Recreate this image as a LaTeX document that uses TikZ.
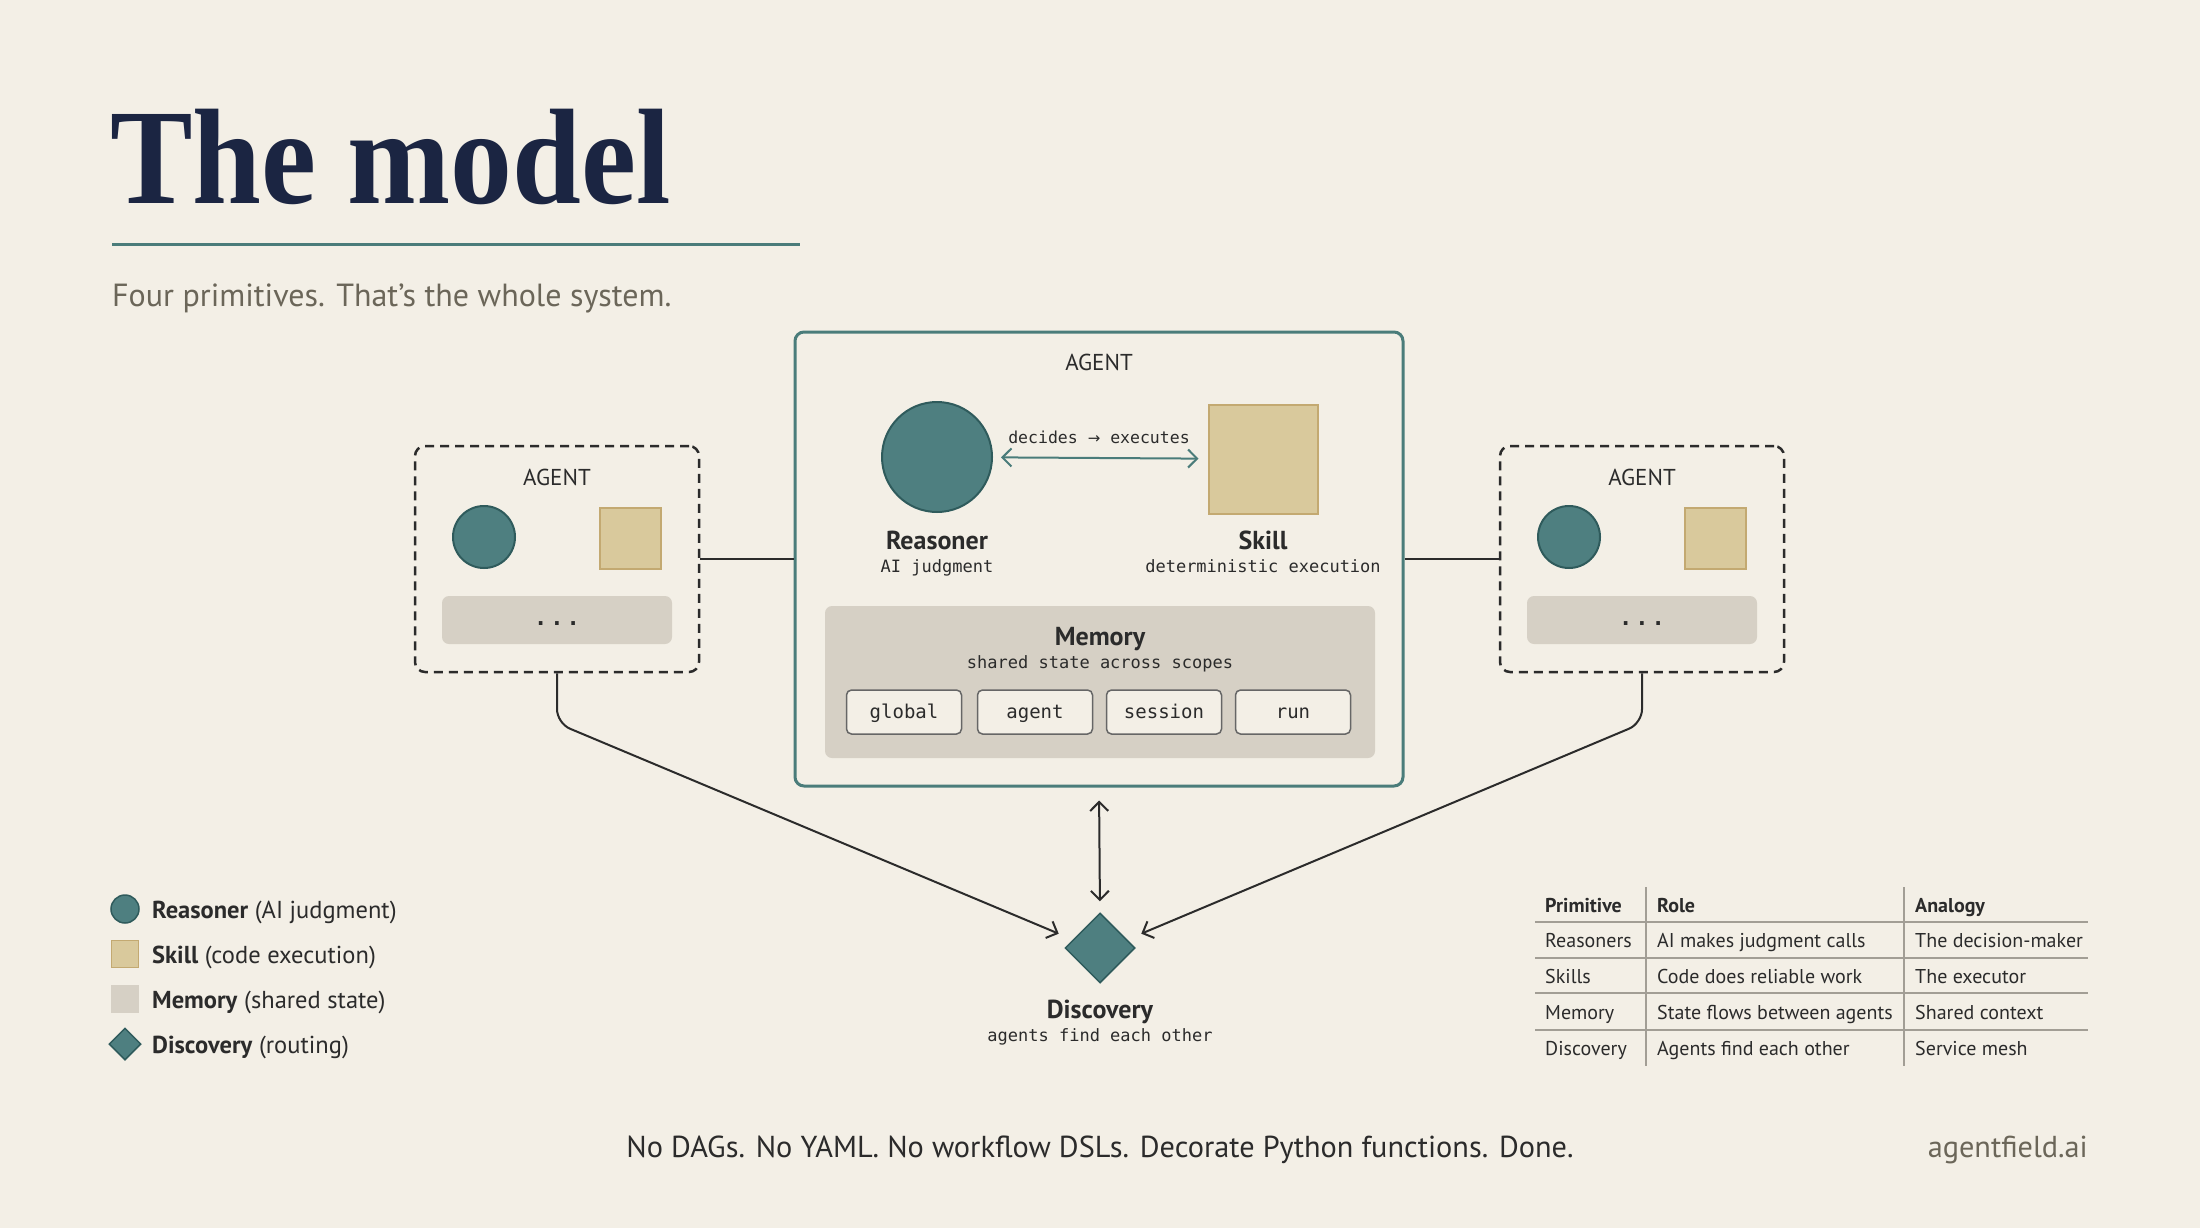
\documentclass[tikz,border=0pt]{standalone}
\usepackage{fontspec}
\setmainfont{PT Sans}
\setmonofont{DejaVu Sans Mono}
\newfontfamily\titlefont{Liberation Serif}
\newfontfamily\arrowfont{DejaVu Sans}
\usepackage{graphicx}
\usepackage{xcolor}
\usepackage{tikz}
\usetikzlibrary{arrows.meta,positioning,shapes.geometric}

\definecolor{bgcream}{HTML}{F3EFE6}
\definecolor{tealfill}{HTML}{4E7F80}
\definecolor{tealdark}{HTML}{2F5B5C}
\definecolor{tealline}{HTML}{4A7C7A}
\definecolor{skillfill}{HTML}{D9C99C}
\definecolor{skillline}{HTML}{C3A971}
\definecolor{memfill}{HTML}{D6D0C5}
\definecolor{navy}{HTML}{1B2542}
\definecolor{subgray}{HTML}{6B6659}
\definecolor{inkdark}{HTML}{2B2B2B}
\definecolor{rulegray}{HTML}{A29E95}

\newcommand{\fsz}[1]{\fontsize{#1}{#1}\selectfont}

\begin{document}
\begin{tikzpicture}[x=1pt,y=-1pt,
  reasoner/.style={circle,fill=tealfill,draw=tealdark,line width=2pt,inner sep=0pt},
  skill/.style={rectangle,fill=skillfill,draw=skillline,line width=2pt,inner sep=0pt},
  membar/.style={fill=memfill,rounded corners=7pt,inner sep=0pt},
  dots/.style={membar,minimum width=230pt,minimum height=48pt,font=\fsz{22}\ttfamily\bfseries,text=inkdark,text height=10pt,text depth=0pt},
  dashbox/.style={draw=inkdark,line width=2.5pt,dash pattern=on 9pt off 6pt,rounded corners=10pt,minimum width=284pt,minimum height=226pt},
  scopebox/.style={draw=black!60,fill=bgcream,line width=1.5pt,rounded corners=5pt,minimum width=115pt,minimum height=44pt,font=\fsz{19}\ttfamily,text=inkdark,text height=13.5pt,text depth=1.5pt},
  lbl/.style={inner sep=0pt,font=\fsz{23},text=inkdark,text height=19.5pt,text depth=3.5pt},
  boldlbl/.style={inner sep=0pt,font=\fsz{26}\bfseries,text=inkdark,text height=22.1pt,text depth=3.9pt},
  mono/.style={inner sep=0pt,font=\fsz{17}\ttfamily,text=inkdark,text height=14.5pt,text depth=2.6pt},
  legtxt/.style={inner sep=0pt,font=\fsz{24.5},text=inkdark,anchor=west,text height=20.8pt,text depth=3.7pt},
  cell/.style={inner sep=0pt,font=\fsz{20},text=inkdark,anchor=west,text height=17pt,text depth=3pt},
  conn/.style={draw=inkdark,line width=2pt},
  barb/.tip={Straight Barb[length=9pt,width=18pt,line width=2pt]}
]
\fill[bgcream] (0,0) rectangle (2200,1228);
\useasboundingbox (0,0) rectangle (2200,1228);

\node[anchor=base west,inner sep=0pt,text=navy] (title) at (110,203)
  {\scalebox{0.91}[1]{\titlefont\bfseries\fsz{136}The model}};
\draw[tealline,line width=3pt] (112,244) -- (800,244);
\node[anchor=base west,inner sep=0pt,text=subgray,font=\fsz{32}] (subtitle) at (112,306)
  {Four primitives. That’s the whole system.};

\node[draw=tealline,line width=3pt,rounded corners=9pt,minimum width=608pt,minimum height=454pt] (agent) at (1099,559) {};
\node[lbl] (agentlbl) at (1099,362) {AGENT};
\node[reasoner,minimum size=110pt] (rsn) at (937,457) {};
\node[skill,minimum size=109pt] (skl) at (1263,459) {};
\draw[tealline,line width=2pt,barb-barb,shorten <=8pt,shorten >=9pt] (rsn) -- (skl);
\node[mono,font=\fsz{16.5}\ttfamily] (decides) at (1099,438) {decides {\arrowfont\fsz{15}→} executes};
\node[boldlbl] (rsnlbl) at (937,540) {Reasoner};
\node[mono] (rsnsub) at (937,567) {AI judgment};
\node[boldlbl] (skllbl) at (1263,540) {Skill};
\node[mono] (sklsub) at (1263,567) {deterministic execution};

\node[membar,minimum width=550pt,minimum height=152pt] (mem) at (1100,682) {};
\node[boldlbl] (memlbl) at (1100,636) {Memory};
\node[mono] (memsub) at (1100,663) {shared state across scopes};
\node[scopebox] (sglobal) at (904,712) {global};
\node[scopebox] (sagent) at (1035,712) {agent};
\node[scopebox] (ssession) at (1164,712) {session};
\node[scopebox] (srun) at (1293,712) {run};

\node[dashbox] (lagent) at (557,559) {};
\node[lbl] (llbl) at (557,477) {AGENT};
\node[reasoner,minimum size=62pt] (lrsn) at (484,537) {};
\node[skill,minimum size=61pt] (lskl) at (630,538) {};
\node[dots] (lmem) at (557,620) {.\kern3pt.\kern3pt.};

\node[dashbox] (ragent) at (1642,559) {};
\node[lbl] (rlbl) at (1642,477) {AGENT};
\node[reasoner,minimum size=62pt] (rrsn) at (1569,537) {};
\node[skill,minimum size=61pt] (rskl) at (1715,538) {};
\node[dots] (rmem) at (1642,620) {.\kern3pt.\kern3pt.};

\draw[conn] (lagent.east) -- (agent.west);
\draw[conn] (agent.east) -- (ragent.west);

\node[diamond,fill=tealfill,draw=tealdark,line width=1.5pt,minimum size=70pt,inner sep=0pt] (disc) at (1100,948) {};
\node[boldlbl] (disclbl) at (1100,1009) {Discovery};
\node[mono] (discsub) at (1100,1036) {agents find each other};

\draw[conn,rounded corners=14pt,-barb,shorten >=6pt] (lagent.south) -- ++(0,50) -- ([yshift=12pt]disc.west);
\draw[conn,rounded corners=14pt,-barb,shorten >=6pt] (ragent.south) -- ++(0,50) -- ([yshift=12pt]disc.east);
\draw[conn,barb-barb,shorten <=13pt,shorten >=11pt] (agent.south) -- (disc.north);

\node[reasoner,minimum size=28pt,line width=1.5pt] (kr) at (125,909) {};
\node[legtxt] (kra) at (152,910) {\textbf{Reasoner} (AI judgment)};
\node[skill,minimum size=27pt,line width=1.5pt] (ks) at (125,954) {};
\node[legtxt] (ksa) at (152,955) {\textbf{Skill} (code execution)};
\node[fill=memfill,minimum size=28pt,inner sep=0pt] (km) at (125,999) {};
\node[legtxt] (kma) at (152,1000) {\textbf{Memory} (shared state)};
\node[diamond,fill=tealfill,draw=tealdark,line width=1.5pt,minimum size=32pt,inner sep=0pt] (kd) at (125,1044) {};
\node[legtxt] (kda) at (152,1045) {\textbf{Discovery} (routing)};

\draw[rulegray,line width=2pt] (1535,922) -- (2088,922);
\draw[rulegray,line width=2pt] (1535,958) -- (2088,958);
\draw[rulegray,line width=2pt] (1535,993) -- (2088,993);
\draw[rulegray,line width=2pt] (1535,1030) -- (2088,1030);
\draw[rulegray,line width=2pt] (1646,887) -- (1646,1066);
\draw[rulegray,line width=2pt] (1904,887) -- (1904,1066);
\node[cell,font=\fsz{20}\bfseries] (h1) at (1545,905) {Primitive};
\node[cell,font=\fsz{20}\bfseries] (h2) at (1657,905) {Role};
\node[cell,font=\fsz{20}\bfseries] (h3) at (1915,905) {Analogy};
\node[cell] (a1) at (1545,940) {Reasoners};
\node[cell] (a2) at (1657,940) {AI makes judgment calls};
\node[cell] (a3) at (1915,940) {The decision-maker};
\node[cell] (b1) at (1545,976) {Skills};
\node[cell] (b2) at (1657,976) {Code does reliable work};
\node[cell] (b3) at (1915,976) {The executor};
\node[cell] (c1) at (1545,1012) {Memory};
\node[cell] (c2) at (1657,1012) {State flows between agents};
\node[cell] (c3) at (1915,1012) {Shared context};
\node[cell] (d1) at (1545,1048) {Discovery};
\node[cell] (d2) at (1657,1048) {Agents find each other};
\node[cell] (d3) at (1915,1048) {Service mesh};

\node[inner sep=0pt,font=\fsz{30.3},text=inkdark,text height=25.8pt,text depth=4.5pt] (footer) at (1100,1147)
  {No DAGs. No YAML. No workflow DSLs. Decorate Python functions. Done.};
\node[inner sep=0pt,font=\fsz{30.3},text=subgray,anchor=east,text height=25.8pt,text depth=4.5pt] (site) at (2088,1147) {agentfield.ai};
\end{tikzpicture}
\end{document}
